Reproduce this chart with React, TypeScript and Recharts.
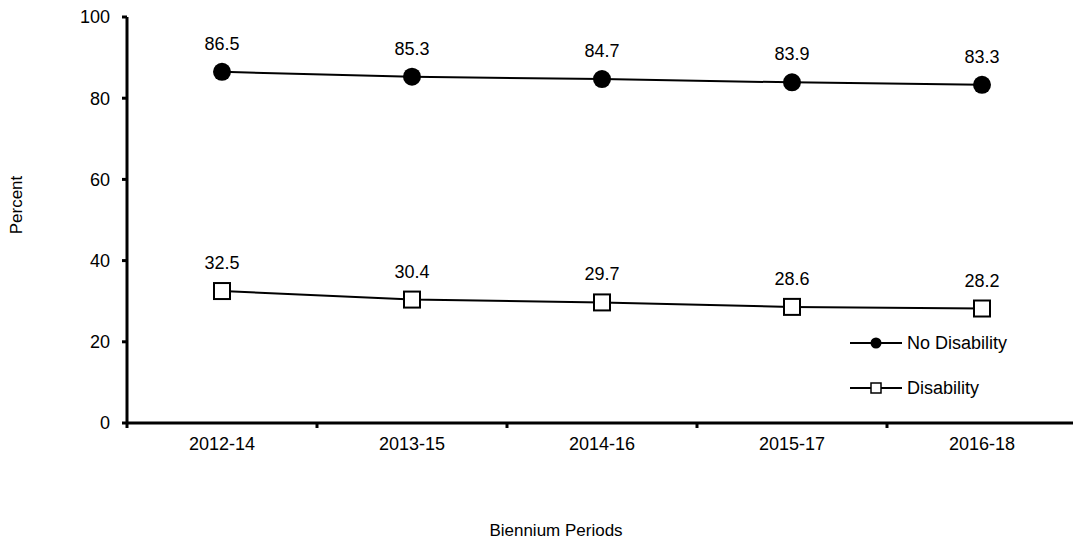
import React from 'react';
import { LineChart, Line, XAxis, YAxis, LabelList } from 'recharts';

const periods = ['2012-14', '2013-15', '2014-16', '2015-17', '2016-18'];
const noDisability = [86.5, 85.3, 84.7, 83.9, 83.3];
const disability = [32.5, 30.4, 29.7, 28.6, 28.2];
const yTicks = [0, 20, 40, 60, 80, 100];

const data = periods.map((p, i) => ({
  period: p,
  noDisability: noDisability[i],
  disability: disability[i],
}));

const FONT = '"Liberation Sans", Arial, sans-serif';
const BAND = 190;

const XTick = (props: any) => {
  const { x, y, payload, index } = props;
  const last = index === periods.length - 1;
  return (
    <g>
      <line x1={x - BAND / 2} x2={x - BAND / 2} y1={y - 8} y2={y - 3} stroke="#000" strokeWidth={3} />
      {last && <line x1={x + BAND / 2} x2={x + BAND / 2} y1={y - 8} y2={y - 3} stroke="#000" strokeWidth={3} />}
      <text x={x} y={y + 19} textAnchor="middle" fontSize={18} fill="#000" fontFamily={FONT}>
        {payload.value}
      </text>
    </g>
  );
};

const SquareDot = (props: any) => {
  const { cx, cy } = props;
  if (cx == null || cy == null) return null;
  return <rect x={cx - 8} y={cy - 8} width={16} height={16} fill="#fff" stroke="#000" strokeWidth={2} />;
};

const CircleDot = (props: any) => {
  const { cx, cy } = props;
  if (cx == null || cy == null) return null;
  return <circle cx={cx} cy={cy} r={9} fill="#000" />;
};

// axis titles
const XTitle = (props: any) => {
  const { viewBox } = props;
  return (
    <text x={556} y={viewBox.y + 113} textAnchor="middle" fontSize={17} fill="#000" fontFamily={FONT}>
      Biennium Periods
    </text>
  );
};

const YTitle = () => (
  <text x={0} y={0} transform="translate(22, 205) rotate(-90)" textAnchor="middle" fontSize={17} fill="#000" fontFamily={FONT}>
    Percent
  </text>
);

const LegendBox = () => (
  <svg width={200} height={80} style={{ position: 'absolute', left: 848, top: 331, overflow: 'visible' }}>
    <g fontFamily={FONT} fontSize={18} fill="#000">
      <line x1={2} x2={54} y1={12} y2={12} stroke="#000" strokeWidth={2} />
      <circle cx={28} cy={12} r={5.5} fill="#000" />
      <text x={59} y={18}>No Disability</text>
      <line x1={2} x2={54} y1={57} y2={57} stroke="#000" strokeWidth={2} />
      <rect x={23} y={52} width={10} height={10} fill="#fff" stroke="#000" strokeWidth={1.5} />
      <text x={59} y={63}>Disability</text>
    </g>
  </svg>
);

export default function App() {
  return (
    <div style={{ position: 'absolute', left: 0, top: 0, width: 1073, height: 541, overflow: 'hidden', background: '#fff' }}>
      <LineChart
        width={1080}
        height={541}
        data={data}
        margin={{ top: 17, right: 3, left: 0, bottom: 0 }}
        style={{ fontFamily: FONT }}
      >
        <XAxis
          dataKey="period"
          scale="band"
          height={118}
          axisLine={{ stroke: '#000', strokeWidth: 3 }}
          tickLine={false}
          tick={<XTick />}
          interval={0}
          label={<XTitle />}
        />
        <YAxis
          width={127}
          domain={[0, 100]}
          ticks={yTicks}
          interval={0}
          axisLine={{ stroke: '#000', strokeWidth: 3 }}
          tickLine={{ stroke: '#000', strokeWidth: 3 }}
          tickSize={5}
          tickMargin={12}
          tick={{ fill: '#000', fontSize: 18, fontFamily: FONT }}
          label={<YTitle />}
        />
        <Line
          dataKey="noDisability"
          name="No Disability"
          stroke="#000"
          strokeWidth={2}
          dot={<CircleDot />}
          activeDot={false}
          isAnimationActive={false}
        >
          <LabelList dataKey="noDisability" position="top" offset={22} fill="#000" fontSize={18} fontFamily={FONT} />
        </Line>
        <Line
          dataKey="disability"
          name="Disability"
          stroke="#000"
          strokeWidth={2}
          dot={<SquareDot />}
          activeDot={false}
          isAnimationActive={false}
        >
          <LabelList dataKey="disability" position="top" offset={22} fill="#000" fontSize={18} fontFamily={FONT} />
        </Line>
      </LineChart>
      <LegendBox />
    </div>
  );
}
